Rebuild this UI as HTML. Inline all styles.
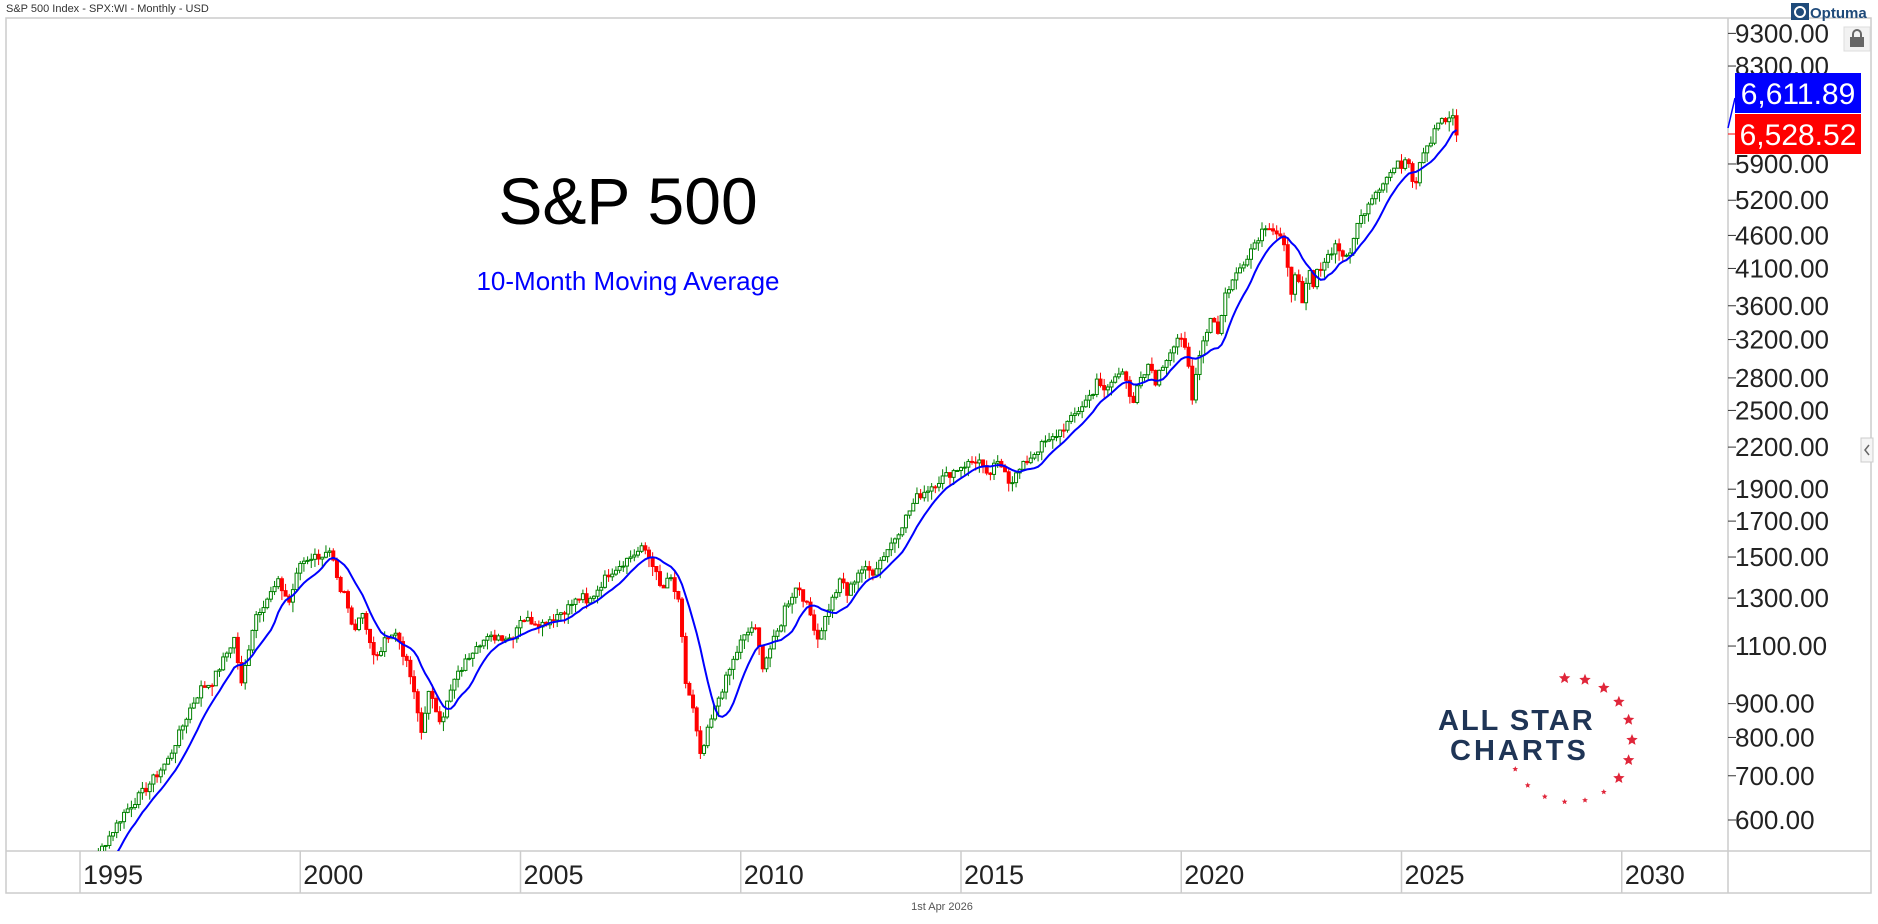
<!DOCTYPE html>
<html><head><meta charset="utf-8"><style>
html,body{margin:0;padding:0;background:#fff;}
body{width:1878px;height:924px;position:relative;overflow:hidden;font-family:"Liberation Sans","DejaVu Sans",sans-serif;}
</style></head><body>
<svg id="s" width="1878" height="924" xmlns="http://www.w3.org/2000/svg" style="position:absolute;left:0;top:0">
<rect x="6" y="18" width="1865" height="875" fill="none" stroke="#ccc" stroke-width="1.5"/>
<line x1="1728" y1="18" x2="1728" y2="893" stroke="#ccc" stroke-width="1.5"/>
<line x1="6" y1="851" x2="1871" y2="851" stroke="#ccc" stroke-width="1.5"/>
<g id="grid"></g>
<g id="plot"></g>
<text x="6" y="12" font-size="11" fill="#333">S&amp;P 500 Index - SPX:WI - Monthly - USD</text>
<text x="628" y="224" font-size="66" text-anchor="middle" fill="#000">S&amp;P 500</text>
<text x="628" y="290" font-size="26" text-anchor="middle" fill="#0000ff">10-Month Moving Average</text>
<text x="942" y="910" font-size="11" text-anchor="middle" fill="#555">1st Apr 2026</text>
<g id="yax" font-size="26" fill="#222"></g>
<line x1="1728" y1="134" x2="1735" y2="134" stroke="#ff0000" stroke-width="1"/>
<line x1="1728" y1="128" x2="1735" y2="98" stroke="#0000ff" stroke-width="1.5"/>
<rect x="1735" y="73" width="126" height="40" fill="#0000ff"/>
<text x="1798" y="104" font-size="30" fill="#fff" text-anchor="middle">6,611.89</text>
<rect x="1735" y="114" width="126" height="40" fill="#ff0000"/>
<text x="1798" y="145" font-size="30" fill="#fff" text-anchor="middle">6,528.52</text>
<rect x="1791" y="3" width="18" height="17" fill="#1e4a7a"/>
<circle cx="1800" cy="12" r="5" fill="none" stroke="#fff" stroke-width="2"/>
<text x="1810" y="18" font-size="15" font-weight="bold" fill="#1e4a7a">Optuma</text>
<rect x="1844" y="27" width="26" height="24" fill="#f2f2f2" stroke="#ddd"/>
<rect x="1850" y="37" width="14" height="10" fill="#666"/>
<path d="M1853 37v-3a4 4 0 0 1 8 0v3" fill="none" stroke="#666" stroke-width="2"/>
<rect x="1861" y="438" width="12" height="24" fill="#f5f5f5" stroke="#ccc"/>
<path d="M1869 445l-4 5 4 5" fill="none" stroke="#666" stroke-width="1.5"/>
<text x="1438" y="730" font-size="29" font-weight="bold" fill="#1f3556" letter-spacing="2">ALL STAR</text>
<text x="1450" y="760" font-size="29" font-weight="bold" fill="#1f3556" letter-spacing="3">CHARTS</text>
<g id="stars" fill="#e0263a"></g>
</svg>
<script>
var NS="http://www.w3.org/2000/svg";
function el(p,t,a,txt){var e=document.createElementNS(NS,t);for(var k in a)e.setAttribute(k,a[k]);if(txt)e.textContent=txt;document.getElementById(p).appendChild(e);return e;}
function X(t){return 80+(t-1995)*44.05;}
function Y(v){return 820-287*Math.log(v/600);}
[9300,8300,5900,5200,4600,4100,3600,3200,2800,2500,2200,1900,1700,1500,1300,1100,900,800,700,600].forEach(function(v){
 var y=Y(v);el("yax","line",{x1:1728,y1:y,x2:1736,y2:y,stroke:"#333","stroke-width":1});
 el("yax","text",{x:1735,y:y+9},v+".00");});
for(var yr=1995;yr<=2030;yr+=5){var x=X(yr);el("grid","line",{x1:x,y1:851,x2:x,y2:893,stroke:"#ccc","stroke-width":1.5});
 el("grid","text",{x:x+3,y:884,"font-size":27,fill:"#222"},""+yr);}
var A=[[1994.5,455],[1994.9,455],[1995.0,459],[1995.5,545],[1996.0,615],[1996.5,670],[1997.0,740],[1997.5,885],[1997.75,950],[1998.0,970],[1998.5,1130],[1998.67,957],[1998.9,1160],[1999.0,1229],[1999.5,1372],[1999.75,1282],[2000.0,1469],[2000.2,1498],[2000.7,1517],[2000.9,1315],[2001.0,1320],[2001.2,1160],[2001.4,1250],[2001.7,1040],[2002.0,1148],[2002.2,1147],[2002.5,990],[2002.75,815],[2002.9,936],[2003.2,848],[2003.5,975],[2004.0,1112],[2004.5,1140],[2004.8,1130],[2005.0,1212],[2005.5,1190],[2006.0,1248],[2006.4,1310],[2006.5,1270],[2007.0,1418],[2007.5,1503],[2007.8,1549],[2008.0,1468],[2008.2,1330],[2008.4,1400],[2008.6,1267],[2008.75,968],[2008.9,896],[2009.1,735],[2009.2,798],[2009.5,919],[2010.0,1115],[2010.3,1186],[2010.5,1030],[2010.9,1180],[2011.0,1258],[2011.3,1363],[2011.6,1218],[2011.75,1131],[2012.0,1257],[2012.3,1397],[2012.4,1310],[2012.7,1440],[2013.0,1426],[2013.5,1606],[2014.0,1848],[2014.5,1960],[2015.0,2058],[2015.4,2107],[2015.6,1972],[2015.8,2080],[2016.0,2044],[2016.1,1940],[2016.5,2098],[2016.9,2239],[2017.0,2238],[2017.5,2423],[2018.0,2673],[2018.1,2823],[2018.2,2640],[2018.7,2914],[2018.9,2506],[2019.0,2704],[2019.3,2945],[2019.4,2752],[2019.9,3230],[2020.0,3225],[2020.15,2954],[2020.25,2584],[2020.4,3044],[2020.7,3500],[2020.85,3270],[2021.0,3756],[2021.5,4297],[2021.9,4766],[2022.0,4766],[2022.3,4530],[2022.4,4131],[2022.5,3785],[2022.6,4130],[2022.75,3585],[2022.9,4080],[2023.0,3840],[2023.1,4076],[2023.5,4450],[2023.8,4193],[2023.9,4568],[2024.0,4770],[2024.3,5254],[2024.5,5460],[2024.9,5882],[2025.0,5882],[2025.1,6040],[2025.2,5954],[2025.25,5612],[2025.33,5569],[2025.4,5911],[2025.5,6205],[2025.6,6339],[2025.7,6460],[2025.75,6688],[2025.83,6840],[2025.9,6850],[2026.0,6845],[2026.1,6940],[2026.2,6880],[2026.25,6528]];
function interp(t){for(var i=0;i<A.length-1;i++){if(t<=A[i+1][0]){var f=(t-A[i][0])/(A[i+1][0]-A[i][0]);return Math.exp(Math.log(A[i][1])*(1-f)+Math.log(A[i+1][1])*f);}}return A[A.length-1][1];}
var seed=7;function rnd(){seed=(seed*9301+49297)%233280;return seed/233280;}
var C=[],T=[];
for(var m=0;;m++){var t=1994.5+m/12;if(t>2026.26)break;T.push(t);C.push(interp(t)*(1+(rnd()-0.5)*0.03));}
C[C.length-1]=6528.52;
var clip=el("plot","clipPath",{id:"cp"});var r=document.createElementNS(NS,"rect");r.setAttribute("x",6);r.setAttribute("y",18);r.setAttribute("width",1722);r.setAttribute("height",833);clip.appendChild(r);
var g=el("plot","g",{"clip-path":"url(#cp)"});g.id="pg";
for(var i=1;i<C.length;i++){var o=C[i-1],c=C[i];var hi=Math.max(o,c)*(1+rnd()*0.025),lo=Math.min(o,c)*(1-rnd()*0.035);
 var x=X(T[i]),up=c>=o,col=up?"#008000":"#ff0000";
 el("pg","line",{x1:x,y1:Y(hi),x2:x,y2:Y(lo),stroke:col,"stroke-width":1});
 var yt=Y(Math.max(o,c)),yb=Y(Math.min(o,c));
 el("pg","rect",{x:x-1.5,y:yt,width:3,height:Math.max(1,yb-yt),fill:up?"#fff":"#ff0000",stroke:col,"stroke-width":1});}
var pts=[];for(var i=9;i<C.length;i++){var s=0;for(var k=0;k<10;k++)s+=C[i-k];pts.push(X(T[i]).toFixed(1)+","+Y(s/10).toFixed(1));}
el("pg","polyline",{points:pts.join(" "),fill:"none",stroke:"#0000ff","stroke-width":2});
for(var k=0;k<14;k++){var a=-95+k*19;var rad=a*Math.PI/180;var cx=1570+62*Math.cos(rad),cy=740+62*Math.sin(rad);
 var sz=k<8?6:3;var p=[];for(var j=0;j<10;j++){var rr=j%2?sz*0.45:sz;var an=(j*36-90)*Math.PI/180;p.push((cx+rr*Math.cos(an)).toFixed(1)+","+(cy+rr*Math.sin(an)).toFixed(1));}
 el("stars","polygon",{points:p.join(" ")});}
</script>
</body></html>
